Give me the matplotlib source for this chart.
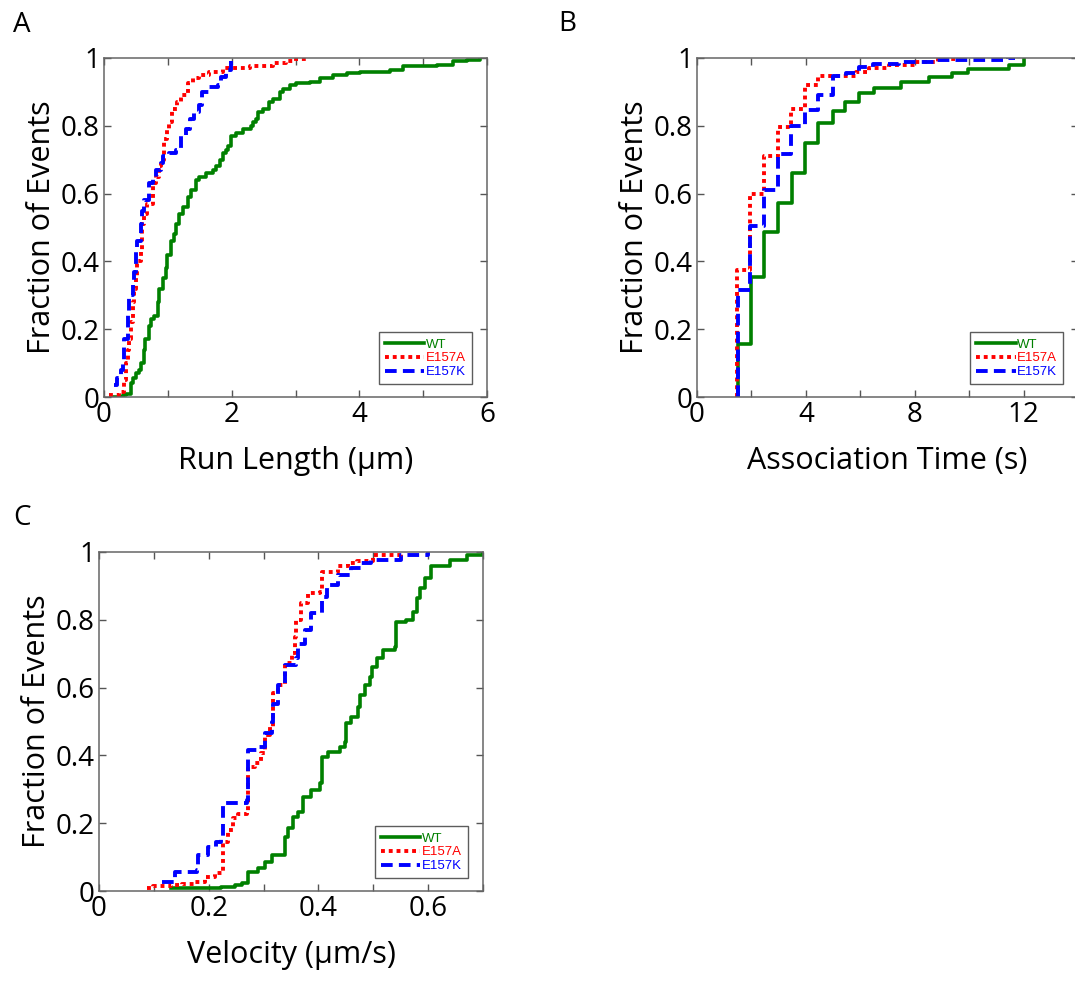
import numpy as np
import matplotlib.pyplot as plt

plt.rcParams['font.family'] = ['Open Sans', 'DejaVu Sans']

# ---- Panel A: run length (um) ----
a_wt_x = [0.15, 0.30, 0.34, 0.42, 0.45, 0.50, 0.55, 0.58, 0.63, 0.65, 0.71, 0.73, 0.79, 0.84,
          0.86, 0.92, 0.97, 0.99, 1.05, 1.10, 1.13, 1.18, 1.23, 1.31, 1.36, 1.44, 1.49, 1.60,
          1.70, 1.75, 1.81, 1.86, 1.91, 1.94, 1.99, 2.07, 2.17, 2.30, 2.33, 2.38, 2.41, 2.49,
          2.59, 2.64, 2.75, 2.80, 2.91, 3.01, 3.22, 3.38, 3.59, 3.80, 4.01, 4.48, 4.69, 5.21,
          5.47, 5.68, 5.89]
a_wt_y = [0.0, 0.005, 0.01, 0.04, 0.055, 0.07, 0.08, 0.10, 0.14, 0.17, 0.21, 0.23, 0.24, 0.28,
          0.32, 0.35, 0.38, 0.42, 0.46, 0.48, 0.51, 0.54, 0.56, 0.59, 0.61, 0.64, 0.65, 0.66,
          0.67, 0.68, 0.70, 0.72, 0.73, 0.74, 0.77, 0.78, 0.79, 0.80, 0.81, 0.82, 0.84, 0.85,
          0.87, 0.88, 0.90, 0.91, 0.92, 0.925, 0.93, 0.94, 0.95, 0.955, 0.96, 0.965, 0.975, 0.98,
          0.99, 0.995, 1.0]
a_a_x = [0.08, 0.24, 0.31, 0.34, 0.37, 0.39, 0.42, 0.45, 0.47, 0.50, 0.52, 0.58, 0.60, 0.63,
         0.68, 0.76, 0.81, 0.86, 0.89, 0.94, 0.99, 1.02, 1.07, 1.15, 1.20, 1.31, 1.39, 1.49,
         1.65, 1.86, 2.02, 2.28, 2.64, 2.85, 3.01, 3.17]
a_a_y = [0.005, 0.016, 0.05, 0.10, 0.14, 0.17, 0.22, 0.28, 0.32, 0.35, 0.40, 0.43, 0.51, 0.54,
         0.57, 0.63, 0.65, 0.68, 0.70, 0.76, 0.79, 0.81, 0.85, 0.87, 0.89, 0.925, 0.94, 0.95,
         0.96, 0.97, 0.971, 0.977, 0.984, 0.99, 0.996, 1.0]
a_k_x = [0.16, 0.21, 0.26, 0.29, 0.31, 0.37, 0.39, 0.45, 0.47, 0.50, 0.52, 0.58, 0.60, 0.63,
         0.71, 0.76, 0.81, 0.89, 0.92, 1.02, 1.13, 1.20, 1.28, 1.34, 1.41, 1.49, 1.54, 1.65,
         1.78, 1.83, 1.91, 1.99]
a_k_y = [0.035, 0.055, 0.08, 0.10, 0.17, 0.25, 0.30, 0.335, 0.37, 0.43, 0.46, 0.51, 0.55, 0.58,
         0.63, 0.65, 0.67, 0.69, 0.71, 0.72, 0.73, 0.77, 0.79, 0.82, 0.84, 0.86, 0.90, 0.915,
         0.92, 0.945, 0.965, 0.99]

# ---- Panel B: association time (s) ----
b_wt_x = [1.52, 1.52, 1.99, 2.47, 2.99, 3.48, 3.96, 4.45, 4.99, 5.42, 5.96, 6.51, 7.48, 8.51,
          9.36, 9.96, 11.48, 12.0]
b_wt_y = [0.0, 0.156, 0.355, 0.488, 0.573, 0.662, 0.748, 0.807, 0.844, 0.871, 0.898, 0.911,
          0.930, 0.945, 0.955, 0.967, 0.979, 1.0]
b_a_x = [1.48, 1.48, 1.94, 2.45, 2.96, 3.45, 3.96, 4.45, 5.84, 6.33, 7.05, 8.02, 8.87, 9.84]
b_a_y = [0.0, 0.375, 0.60, 0.711, 0.797, 0.849, 0.920, 0.947, 0.960, 0.970, 0.979, 0.989,
         0.996, 1.0]
b_k_x = [1.52, 1.52, 1.96, 2.47, 2.96, 3.45, 3.96, 4.45, 4.99, 5.48, 5.96, 6.45, 7.42, 8.81,
         11.42, 11.7]
b_k_y = [0.0, 0.316, 0.504, 0.611, 0.717, 0.799, 0.847, 0.891, 0.947, 0.955, 0.974, 0.982,
         0.989, 0.994, 0.999, 1.0]

# ---- Panel C: velocity (um/s) ----
c_wt_x = [0.132, 0.223, 0.248, 0.260, 0.272, 0.290, 0.302, 0.315, 0.339, 0.339, 0.345, 0.354,
          0.363, 0.372, 0.387, 0.403, 0.406, 0.418, 0.439, 0.448, 0.451, 0.460, 0.472, 0.475,
          0.484, 0.494, 0.497, 0.506, 0.518, 0.539, 0.542, 0.560, 0.573, 0.579, 0.585, 0.594,
          0.606, 0.64, 0.67, 0.70]
c_wt_y = [0.008, 0.013, 0.018, 0.025, 0.057, 0.067, 0.087, 0.106, 0.121, 0.160, 0.185, 0.219,
          0.234, 0.278, 0.298, 0.318, 0.396, 0.411, 0.426, 0.440, 0.495, 0.514, 0.544, 0.578,
          0.608, 0.632, 0.662, 0.686, 0.711, 0.721, 0.794, 0.800, 0.824, 0.863, 0.893, 0.922,
          0.960, 0.975, 0.990, 1.0]
c_a_x = [0.087, 0.099, 0.132, 0.151, 0.175, 0.193, 0.211, 0.226, 0.226, 0.236, 0.245, 0.254,
         0.269, 0.271, 0.284, 0.296, 0.302, 0.311, 0.318, 0.327, 0.339, 0.351, 0.357, 0.360,
         0.369, 0.381, 0.402, 0.406, 0.435, 0.453, 0.471, 0.50, 0.55]
c_a_y = [0.008, 0.015, 0.018, 0.021, 0.028, 0.042, 0.052, 0.072, 0.146, 0.180, 0.214, 0.227,
         0.229, 0.367, 0.377, 0.406, 0.460, 0.485, 0.583, 0.608, 0.672, 0.701, 0.750, 0.800,
         0.849, 0.878, 0.883, 0.942, 0.959, 0.967, 0.973, 0.990, 1.0]
c_k_x = [0.114, 0.138, 0.178, 0.181, 0.199, 0.214, 0.223, 0.226, 0.269, 0.271, 0.290, 0.302,
         0.315, 0.318, 0.327, 0.339, 0.360, 0.363, 0.375, 0.387, 0.406, 0.415, 0.435, 0.459,
         0.477, 0.495, 0.55, 0.60]
c_k_y = [0.028, 0.057, 0.062, 0.106, 0.131, 0.146, 0.160, 0.259, 0.268, 0.416, 0.426, 0.465,
         0.500, 0.553, 0.608, 0.667, 0.686, 0.730, 0.770, 0.819, 0.868, 0.903, 0.932, 0.952,
         0.967, 0.976, 0.990, 1.0]

labels = ['WT', 'E157A', 'E157K']
colors = ['#008000', '#ff0000', '#0000ff']
styles = ['-', (0, (1.0, 1.0)), (0, (3.0, 1.6))]
widths = [2.6, 2.8, 2.8]

W, H = 1075, 983
fig = plt.figure(figsize=(W / 100, H / 100), dpi=100)

# axes boxes in pixels: left, top, right, bottom
panels = [
    ('A', (104, 58, 487, 397), (13, 25), (a_wt_x, a_wt_y), (a_a_x, a_a_y), (a_k_x, a_k_y),
     (0, 6), np.arange(0, 7, 1), [0, 2, 4, 6], 'Run Length (\u03bcm)'),
    ('B', (697, 58, 1078, 397), (558, 24), (b_wt_x, b_wt_y), (b_a_x, b_a_y), (b_k_x, b_k_y),
     (0, 14), np.arange(0, 15, 2), [0, 4, 8, 12], 'Association Time (s)'),
    ('C', (99, 552, 483, 891), (13, 518), (c_wt_x, c_wt_y), (c_a_x, c_a_y), (c_k_x, c_k_y),
     (0, 0.7), np.arange(0, 0.71, 0.1), [0, 0.2, 0.4, 0.6], 'Velocity (\u03bcm/s)'),
]

for letter, box, lpos, wt, e157a, e157k, xlim, xticks, xlabs, xlabel in panels:
    l, t, r, b = box
    ax = fig.add_axes([l / W, 1 - b / H, (r - l) / W, (b - t) / H])
    for (x, y), lab, c, ls, lw in zip([wt, e157a, e157k], labels, colors, styles, widths):
        ax.step(x, y, where='post', color=c, linestyle=ls, linewidth=lw, label=lab)
    ax.set_xlim(*xlim)
    ax.set_ylim(0, 1)
    ax.set_xticks(xticks)
    ax.set_xticklabels(['%g' % v if any(abs(v - q) < 1e-9 for q in xlabs) else '' for v in xticks])
    ax.set_yticks([0, 0.2, 0.4, 0.6, 0.8, 1.0])
    ax.set_yticklabels(['0', '0.2', '0.4', '0.6', '0.8', '1'])
    ax.tick_params(direction='in', length=5, width=1, color='#555555', labelsize=20,
                   top=True, right=True, pad=3)
    for s in ax.spines.values():
        s.set_color('#666666')
        s.set_linewidth(1.1)
    ax.set_xlabel(xlabel, fontsize=22, labelpad=12)
    ax.set_ylabel('Fraction of Events', fontsize=22, labelpad=3)
    leg = ax.legend(loc='lower right', bbox_to_anchor=(0.96, 0.038), borderaxespad=0,
                    handlelength=3.0, handletextpad=0.1, labelspacing=0.12,
                    borderpad=0.45, fancybox=False, edgecolor='#333333',
                    labelcolor='linecolor', prop={'family': 'Liberation Sans', 'size': 9.5})
    leg.get_frame().set_linewidth(1.0)
    fig.text(lpos[0] / W, 1 - lpos[1] / H, letter, fontsize=20, va='center', ha='left')

fig.savefig('out.png', dpi=100)
